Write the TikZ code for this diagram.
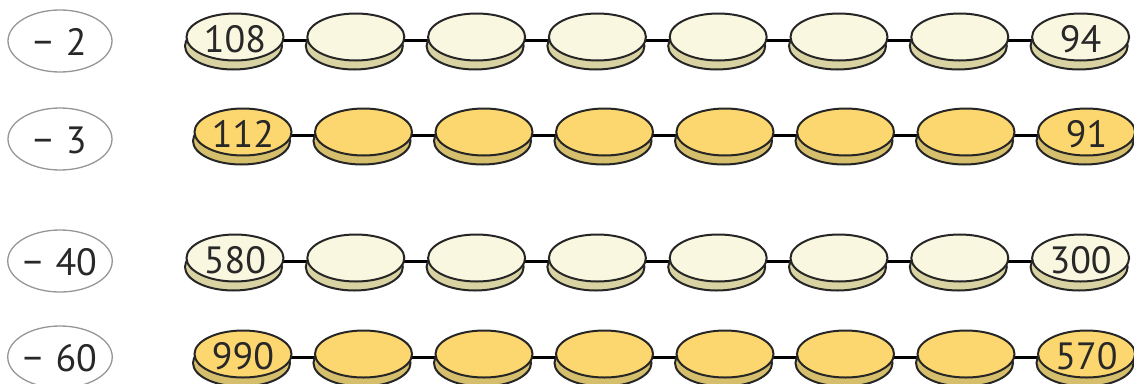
\documentclass[tikz,border=0pt]{standalone}
\usepackage{fontspec}
\setmainfont{PT Sans}
\usetikzlibrary{shapes.geometric,backgrounds}
\definecolor{creamTop}{RGB}{250,247,224}
\definecolor{creamLow}{RGB}{217,211,163}
\definecolor{goldTop}{RGB}{252,215,112}
\definecolor{goldLow}{RGB}{213,190,108}
\definecolor{labelGray}{RGB}{150,150,150}
\definecolor{inkText}{RGB}{40,40,40}
\begin{document}
\begin{tikzpicture}[x=1pt,y=-1pt,
  coinface/.style={ellipse, draw=black!85, line width=2pt, minimum width=97pt,
    minimum height=47pt, inner sep=0pt, font=\fontsize{38}{40}\selectfont, text=inkText,
    text height=30pt, text depth=0pt},
  coinlow/.style={ellipse, draw=black!85, line width=2pt, minimum width=97pt,
    minimum height=47pt, inner sep=0pt},
  lab/.style={ellipse, draw=labelGray, line width=1.3pt, fill=white, minimum width=104pt,
    minimum height=62pt, inner sep=0pt, font=\fontsize{38}{40}\selectfont, text=inkText,
    text height=29pt, text depth=0pt},
  link/.style={line width=3pt, black}]
\useasboundingbox (0,0) rectangle (1134,383);
\node[lab] (l1) at (60,41) {−\hspace{0.35em}2};
\node[lab] (l2) at (60,139) {−\hspace{0.35em}3};
\node[lab] (l3) at (60,261) {−\hspace{0.35em}40};
\node[lab] (l4) at (60,357) {−\hspace{0.35em}60};
\foreach \row/\y/\lx/\dx/\face/\low/\first/\last in {
   1/37/235/120.8/creamTop/creamLow/108/94,
   2/132/243/120.5/goldTop/goldLow/112/91,
   3/258/235/120.8/creamTop/creamLow/580/300,
   4/354/243/120.5/goldTop/goldLow/990/570} {
  \foreach \i in {1,...,8} {
    \pgfmathsetmacro\cx{\lx+(\i-1)*\dx}
    \ifnum\i=1 \edef\txt{\first}\else\ifnum\i=8 \edef\txt{\last}\else\def\txt{}\fi\fi
    \node[coinlow, fill=\low] (r\row c\i s) at (\cx-1.5,\y+9) {};
    \node[coinface, fill=\face] (r\row c\i) at (\cx,\y) {\txt};
  }
  \begin{scope}[on background layer]
    \foreach \i [evaluate=\i as \j using int(\i+1)] in {1,...,7}
      \draw[link] ([yshift=-3pt]r\row c\i.center) -- ([yshift=-3pt]r\row c\j.center);
  \end{scope}
}
\end{tikzpicture}
\end{document}
